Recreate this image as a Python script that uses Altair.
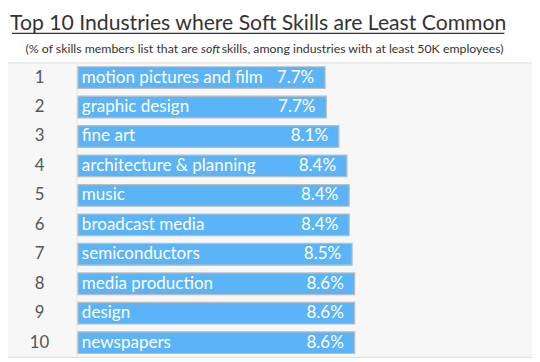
import altair as alt
import pandas as pd

ranks = [1, 2, 3, 4, 5, 6, 7, 8, 9, 10]
industries = [
    "motion pictures and film",
    "graphic design",
    "fine art",
    "architecture & planning",
    "music",
    "broadcast media",
    "semiconductors",
    "media production",
    "design",
    "newspapers",
]
values = [7.68, 7.72, 8.11, 8.36, 8.43, 8.43, 8.52, 8.60, 8.60, 8.60]

title_text = "Top 10 Industries where Soft Skills are Least Common"
sub_a = "(% of skills members list that are"
sub_b = "soft"
sub_c = "skills, among industries with at least 50K employees)"

df = pd.DataFrame({"rank": ranks, "industry": industries, "value": values})
one = pd.DataFrame({"k": [0]})

W, H = 532, 354
FONT = "Lato"

xscale = alt.Scale(domain=[0, 14], range=[71, 71 + 32.67 * 14], nice=False)
yscale = alt.Scale(domain=ranks, range=[53, 352], paddingInner=0.264, paddingOuter=0.132)

base = alt.Chart(df)
single = alt.Chart(one)

panel = single.mark_rect(color="#f7f7f7").encode(
    x=alt.value(0), x2=alt.value(W), y=alt.value(53), y2=alt.value(352)
)
top_line = single.mark_rule(color="#e2e2e2", strokeWidth=1.5).encode(
    x=alt.value(0), x2=alt.value(W), y=alt.value(53)
)
bottom_line = single.mark_rule(color="#e2e2e2", strokeWidth=1.5).encode(
    x=alt.value(0), x2=alt.value(W), y=alt.value(352)
)
col_line = single.mark_rule(color="#e6e6e6", strokeWidth=1).encode(
    x=alt.value(70), y=alt.value(53), y2=alt.value(352)
)

bars = base.mark_bar(color="#5ab4f7", stroke="#bdbdbd", strokeWidth=1.2, cornerRadius=0).encode(
    x=alt.X("value:Q", scale=xscale, axis=None),
    y=alt.Y("rank:O", scale=yscale, axis=None),
)

names = base.mark_text(align="left", baseline="middle", color="white", fontSize=17.3, font=FONT).encode(
    x=alt.value(75),
    y=alt.Y("rank:O", scale=yscale, axis=None),
    text="industry:N",
)

pct = base.transform_calculate(
    lab="format(datum.value, '.1f') + '%'"
).mark_text(align="right", baseline="middle", color="white", fontSize=17.3, font=FONT, dx=-11).encode(
    x=alt.X("value:Q", scale=xscale, axis=None),
    y=alt.Y("rank:O", scale=yscale, axis=None),
    text="lab:N",
)

rank_txt = base.mark_text(align="center", baseline="middle", color="#555555", fontSize=17, font=FONT).encode(
    x=alt.value(32),
    y=alt.Y("rank:O", scale=yscale, axis=None),
    text="rank:N",
)

title = single.mark_text(align="center", baseline="alphabetic", color="#333333", fontSize=21.5, font=FONT).encode(
    x=alt.value(254), y=alt.value(20), text=alt.value(title_text)
)
underline = single.mark_rule(color="#333333", strokeWidth=1.2).encode(
    x=alt.value(4), x2=alt.value(504), y=alt.value(23)
)

sa = single.mark_text(align="right", baseline="middle", color="#333333", fontSize=12.5, font=FONT).encode(
    x=alt.value(193), y=alt.value(39), text=alt.value(sub_a)
)
sb = single.mark_text(align="left", baseline="middle", color="#333333", fontSize=12.5, font=FONT, fontStyle="italic").encode(
    x=alt.value(196), y=alt.value(39), text=alt.value(sub_b)
)
sc = single.mark_text(align="left", baseline="middle", color="#333333", fontSize=12.5, font=FONT).encode(
    x=alt.value(217), y=alt.value(39), text=alt.value(sub_c)
)

chart = alt.layer(
    panel, top_line, bottom_line, col_line, bars, names, pct, rank_txt,
    title, underline, sa, sb, sc
).properties(
    width=W, height=H, autosize=alt.AutoSizeParams(type="none"), padding=0, background="white"
).configure_view(stroke=None)

chart.save("out.html", embed_options={"renderer": "svg", "actions": False})
